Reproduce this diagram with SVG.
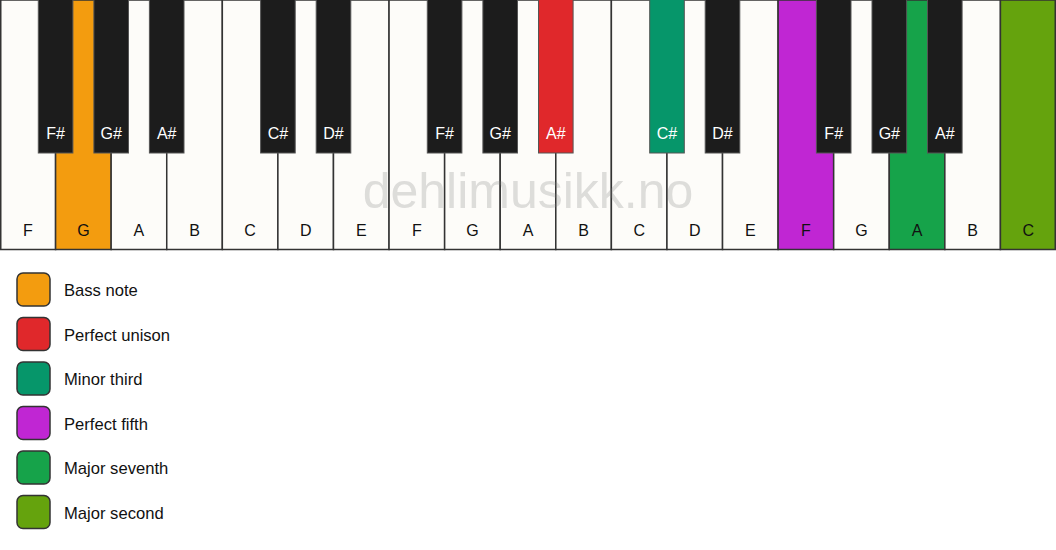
<svg xmlns="http://www.w3.org/2000/svg" width="1056" height="550" viewBox="0 0 1056 550">
<style>
.w{fill:#fdfcf9;stroke:#333;stroke-width:1.5}
.b{fill:#1c1c1c;stroke:#555;stroke-width:1}
.lw{font-family:"Liberation Sans",Arial,sans-serif;font-size:16px;fill:#111;text-anchor:middle}
.lb{font-family:"Liberation Sans",Arial,sans-serif;font-size:16px;fill:#fff;text-anchor:middle}
.lg{font-family:"Liberation Sans",Arial,sans-serif;font-size:16.6px;fill:#111}
.sw{stroke:#333;stroke-width:1.5}
</style>
<rect width="1056" height="550" fill="#ffffff"/>
<g id="white-keys">
<g id="wk0"><rect class="w" x="0.75" y="0" width="54.83" height="249.5"/><text class="lw" x="27.8" y="236">F</text></g>
<g id="wk1"><rect class="w" x="55.58" y="0" width="55.58" height="249.5" style="fill:#f39c0f"/><text class="lw" x="83.4" y="236">G</text></g>
<g id="wk2"><rect class="w" x="111.16" y="0" width="55.58" height="249.5"/><text class="lw" x="138.9" y="236">A</text></g>
<g id="wk3"><rect class="w" x="166.74" y="0" width="55.58" height="249.5"/><text class="lw" x="194.5" y="236">B</text></g>
<g id="wk4"><rect class="w" x="222.32" y="0" width="55.58" height="249.5"/><text class="lw" x="250.1" y="236">C</text></g>
<g id="wk5"><rect class="w" x="277.89" y="0" width="55.58" height="249.5"/><text class="lw" x="305.7" y="236">D</text></g>
<g id="wk6"><rect class="w" x="333.47" y="0" width="55.58" height="249.5"/><text class="lw" x="361.3" y="236">E</text></g>
<g id="wk7"><rect class="w" x="389.05" y="0" width="55.58" height="249.5"/><text class="lw" x="416.8" y="236">F</text></g>
<g id="wk8"><rect class="w" x="444.63" y="0" width="55.58" height="249.5"/><text class="lw" x="472.4" y="236">G</text></g>
<g id="wk9"><rect class="w" x="500.21" y="0" width="55.58" height="249.5"/><text class="lw" x="528" y="236">A</text></g>
<g id="wk10"><rect class="w" x="555.79" y="0" width="55.58" height="249.5"/><text class="lw" x="583.6" y="236">B</text></g>
<g id="wk11"><rect class="w" x="611.37" y="0" width="55.58" height="249.5"/><text class="lw" x="639.2" y="236">C</text></g>
<g id="wk12"><rect class="w" x="666.95" y="0" width="55.58" height="249.5"/><text class="lw" x="694.7" y="236">D</text></g>
<g id="wk13"><rect class="w" x="722.53" y="0" width="55.58" height="249.5"/><text class="lw" x="750.3" y="236">E</text></g>
<g id="wk14"><rect class="w" x="778.11" y="0" width="55.58" height="249.5" style="fill:#c026d3"/><text class="lw" x="805.9" y="236">F</text></g>
<g id="wk15"><rect class="w" x="833.68" y="0" width="55.58" height="249.5"/><text class="lw" x="861.5" y="236">G</text></g>
<g id="wk16"><rect class="w" x="889.26" y="0" width="55.58" height="249.5" style="fill:#16a34a"/><text class="lw" x="917.1" y="236">A</text></g>
<g id="wk17"><rect class="w" x="944.84" y="0" width="55.58" height="249.5"/><text class="lw" x="972.6" y="236">B</text></g>
<g id="wk18"><rect class="w" x="1000.42" y="0" width="54.83" height="249.5" style="fill:#65a30d"/><text class="lw" x="1028.2" y="236">C</text></g>
</g>
<text x="528" y="208" font-family="Liberation Sans,Arial,sans-serif" font-size="50" text-anchor="middle" fill="#808080" fill-opacity="0.25">dehlimusikk.no</text>
<g id="black-keys">
<g id="bk1"><rect class="b" x="38.3" y="-1" width="34.6" height="154"/><text class="lb" x="55.6" y="139">F#</text></g>
<g id="bk2"><rect class="b" x="93.9" y="-1" width="34.6" height="154"/><text class="lb" x="111.2" y="139">G#</text></g>
<g id="bk3"><rect class="b" x="149.4" y="-1" width="34.6" height="154"/><text class="lb" x="166.7" y="139">A#</text></g>
<g id="bk5"><rect class="b" x="260.6" y="-1" width="34.6" height="154"/><text class="lb" x="277.9" y="139">C#</text></g>
<g id="bk6"><rect class="b" x="316.2" y="-1" width="34.6" height="154"/><text class="lb" x="333.5" y="139">D#</text></g>
<g id="bk8"><rect class="b" x="427.3" y="-1" width="34.6" height="154"/><text class="lb" x="444.6" y="139">F#</text></g>
<g id="bk9"><rect class="b" x="482.9" y="-1" width="34.6" height="154"/><text class="lb" x="500.2" y="139">G#</text></g>
<g id="bk10"><rect class="b" x="538.5" y="-1" width="34.6" height="154" style="fill:#e0282b"/><text class="lb" x="555.8" y="139">A#</text></g>
<g id="bk12"><rect class="b" x="649.7" y="-1" width="34.6" height="154" style="fill:#06966a"/><text class="lb" x="667" y="139">C#</text></g>
<g id="bk13"><rect class="b" x="705.2" y="-1" width="34.6" height="154"/><text class="lb" x="722.5" y="139">D#</text></g>
<g id="bk15"><rect class="b" x="816.4" y="-1" width="34.6" height="154"/><text class="lb" x="833.7" y="139">F#</text></g>
<g id="bk16"><rect class="b" x="872" y="-1" width="34.6" height="154"/><text class="lb" x="889.3" y="139">G#</text></g>
<g id="bk17"><rect class="b" x="927.5" y="-1" width="34.6" height="154"/><text class="lb" x="944.8" y="139">A#</text></g>
</g>
<g id="legend">
<g id="leg-bass"><rect class="sw" x="17" y="273" width="33" height="33" rx="6" fill="#f39c0f"/><text class="lg" x="64" y="296">Bass note</text></g>
<g id="leg-unison"><rect class="sw" x="17" y="317.5" width="33" height="33" rx="6" fill="#e0282b"/><text class="lg" x="64" y="340.5">Perfect unison</text></g>
<g id="leg-minor3"><rect class="sw" x="17" y="362" width="33" height="33" rx="6" fill="#06966a"/><text class="lg" x="64" y="385">Minor third</text></g>
<g id="leg-fifth"><rect class="sw" x="17" y="406.5" width="33" height="33" rx="6" fill="#c026d3"/><text class="lg" x="64" y="429.5">Perfect fifth</text></g>
<g id="leg-maj7"><rect class="sw" x="17" y="451" width="33" height="33" rx="6" fill="#16a34a"/><text class="lg" x="64" y="474">Major seventh</text></g>
<g id="leg-maj2"><rect class="sw" x="17" y="495.5" width="33" height="33" rx="6" fill="#65a30d"/><text class="lg" x="64" y="518.5">Major second</text></g>
</g>
</svg>
